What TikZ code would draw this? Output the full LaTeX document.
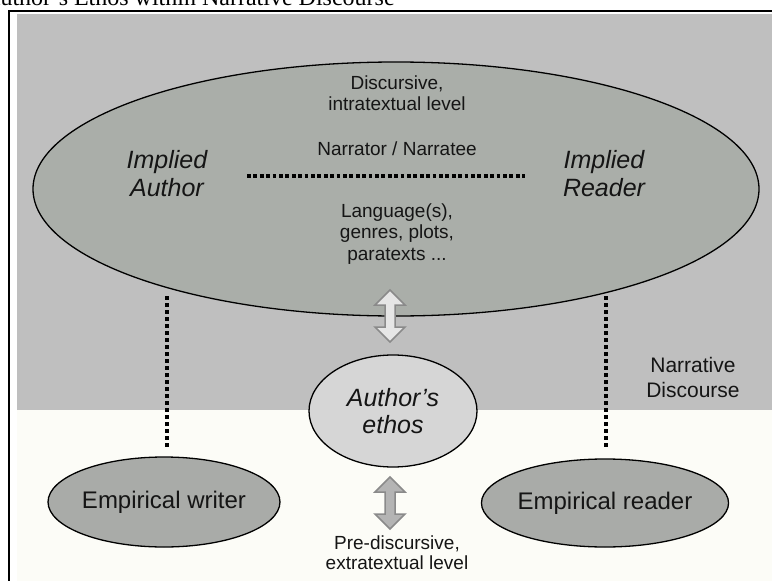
\documentclass[tikz,border=0pt]{standalone}
\usepackage{fontspec}
\setmainfont{Liberation Sans}
\newfontfamily\titlefont{Liberation Serif}
\usetikzlibrary{shapes.geometric,calc}
\definecolor{bggray}{HTML}{BFBFBF}
\definecolor{offwhite}{HTML}{FCFCF7}
\definecolor{bigfill}{HTML}{AAAEA9}
\definecolor{ethosfill}{HTML}{D6D6D6}
\definecolor{empfill}{HTML}{A9ABA8}
\definecolor{txt}{HTML}{151515}
\definecolor{arrline}{HTML}{8A8A8A}
\definecolor{arrfillA}{HTML}{E6E6E6}
\definecolor{arrfillB}{HTML}{B4B4B4}
\tikzset{
  ell/.style={ellipse, draw=black, line width=1.3pt, inner sep=0pt, text=txt},
  lbl/.style={align=center, inner sep=0pt, text=txt, font=\fontsize{19}{21.5}\selectfont},
  ital/.style={align=center, inner sep=0pt, text=txt, font=\itshape\fontsize{25}{28}\selectfont},
  dotline/.style={line width=3.6pt, dash pattern=on 3.8pt off 2.6pt, black},
  vdotline/.style={line width=3.4pt, dash pattern=on 3.6pt off 3.4pt, black},
  dblarrow/.pic={\path[pic actions] (0,-26) -- (15,-11) -- (5,-11) -- (5,11) -- (15,11) -- (0,26) -- (-15,11) -- (-5,11) -- (-5,-11) -- (-15,-11) -- cycle;}
}
\begin{document}
\begin{tikzpicture}[x=1pt,y=-1pt]
\useasboundingbox (0,0) rectangle (772,581);
\clip (0,0) rectangle (772,581);
\fill[white] (0,0) rectangle (772,581);
% title (cut off at top, as in the reference)
\node[anchor=base west, inner sep=0pt, font=\titlefont\fontsize{24}{24}\selectfont] (title) at (-17,5) {Author’s Ethos within Narrative Discourse};
% frame and areas
\fill[bggray] (17,14) rectangle (780,410);
\fill[offwhite] (17,410) rectangle (780,590);
\draw[line width=2pt] (9,595) -- (9,11) -- (790,11);
% big ellipse
\node[ell, fill=bigfill, minimum width=726pt, minimum height=254pt] (big) at (396,189) {};
\node[lbl] (level) at (397,93) {Discursive,\\intratextual level};
\node[lbl] (narr) at (397,149) {Narrator / Narratee};
\node[lbl] (lang) at (397,234) {Language(s),\\genres, plots,\\paratexts ...};
\node[ital] (iauthor) at (167,174) {Implied\\Author};
\node[ital] (ireader) at (604,174) {Implied\\Reader};
\coordinate (nl) at (247,176);
\coordinate (nr) at (525,176);
\draw[dotline] (nl) -- (nr);
% narrative discourse label
\node[align=center, inner sep=0pt, text=txt, font=\fontsize{21}{25}\selectfont] (nd) at (693,377) {Narrative\\Discourse};
% lower ellipses
\node[ell, fill=ethosfill, minimum width=168pt, minimum height=112pt, font=\itshape\fontsize{25}{27}\selectfont, align=center] (ethos) at (393,411) {Author’s\\ethos};
\node[ell, fill=empfill, minimum width=216pt, minimum height=90pt, font=\fontsize{24}{28}\selectfont] (writer) at (164,502) {Empirical writer};
\node[ell, fill=empfill, minimum width=220pt, minimum height=88pt, font=\fontsize{24}{28}\selectfont] (reader) at (605,503) {Empirical reader};
\node[lbl, font=\fontsize{19}{20}\selectfont] (pre) at (397,553) {Pre-discursive,\\extratextual level};
% vertical dotted connectors
\coordinate (la) at (167,296);
\coordinate (ra) at (606,296);
\coordinate (lw) at (167,448);
\coordinate (rw) at (606,448);
\draw[vdotline] (la) -- (lw);
\draw[vdotline] (ra) -- (rw);
% double arrows
\pic[draw=arrline, fill=arrfillA, line width=1.5pt] (uparr) at (390,316) {dblarrow};
\pic[draw=arrline, fill=arrfillB, line width=1.5pt] (loarr) at (390,503) {dblarrow};
\end{tikzpicture}
\end{document}
